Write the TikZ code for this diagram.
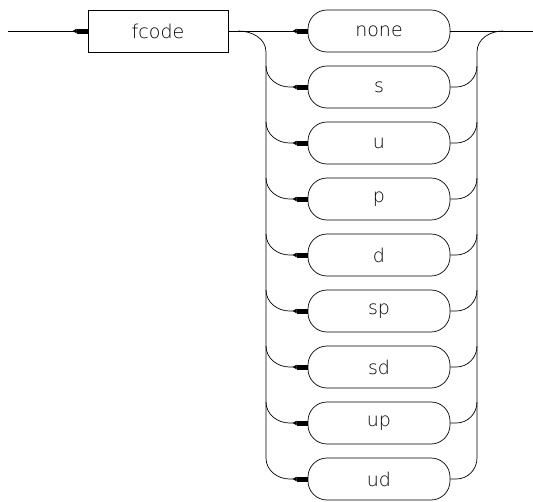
\documentclass[tikz,border=0pt]{standalone}
\usepackage{fontspec}
\newfontfamily\plotfont{DejaVu Sans ExtraLight}
\usepackage{tikz}
\usetikzlibrary{positioning,calc,arrows.meta}

\begin{document}
\begin{tikzpicture}[x=1pt,y=-1pt,line width=0.7pt,
  keybox/.style={draw,rectangle,minimum width=140pt,minimum height=42pt,
        inner sep=0pt,font=\plotfont\fontsize{19}{22}\selectfont},
  optbox/.style={draw,rectangle,rounded corners=19pt,minimum width=142pt,
        minimum height=42pt,inner sep=0pt,font=\plotfont\fontsize{19}{22}\selectfont},
  flow/.style={-{Triangle[reversed,length=4pt,width=4.5pt,sep=0pt]
        Rectangle[length=11pt,width=4.5pt]}}]
  \useasboundingbox (0,0) rectangle (533,502);
  \node[keybox] (fcode) at (158,31) {fcode};
  \coordinate (start) at (8,31);
  \coordinate (finish) at (533,31);
  \draw[flow] (start) -- (fcode);
  % choices
  \foreach \lbl [count=\i from 0] in {none,s,u,p,d,sp,sd,up,ud}{
    \node[optbox] (opt\i) at (379,{31+56*\i}) {\lbl};
  }
  \draw[flow] (fcode.east) -- (opt0.west);
  \draw (opt0.east) -- (finish);
  % left rail
  \coordinate (ltop) at (266,52);
  \coordinate (lbot) at (266,{31+56*8-21});
  \draw ($(fcode.east)+(10,0)$) to[out=0,in=90] (ltop) -- (lbot);
  \foreach \i in {1,...,8}{
    \draw[flow] (266,{31+56*\i-21}) to[out=-90,in=180]
      ($(opt\i.west)+(-18,0)$) -- (opt\i.west);
    \draw (opt\i.east) -- ++(6,0) to[out=0,in=-90] (477,{31+56*\i-21});
  }
  % right rail
  \coordinate (rtop) at (477,52);
  \coordinate (rbot) at (477,{31+56*8-21});
  \draw (rbot) -- (rtop) to[out=90,in=180] ($(finish)+(-30,0)$);
\end{tikzpicture}
\end{document}
